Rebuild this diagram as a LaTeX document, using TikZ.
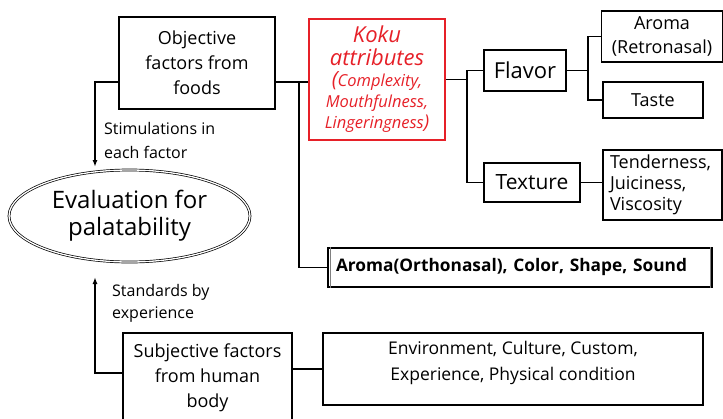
\documentclass[tikz,border=0pt]{standalone}
\usepackage{fontspec}
\usepackage{xcolor}
\usepackage{tikz}
\setmainfont{Open Sans}
\usetikzlibrary{arrows.meta,shapes.geometric}
\definecolor{kokured}{RGB}{230,32,40}

\begin{document}
\begin{tikzpicture}[x=1pt,y=1pt,
	box/.style={draw=black, line width=1.6pt, align=center, inner sep=0pt},
	mainbox/.style={box, line width=2.8pt},
	link/.style={black, line width=1.4pt},
	arr/.style={link, -{Latex[length=7pt,width=5pt]}}]
	\useasboundingbox (0,0) rectangle (723,-418);
	\clip (0,0) rectangle (723,-418);
	\node [mainbox, minimum width=156, minimum height=92, font=\fontsize{18}{25}\selectfont] (obj) at (197,-63) {Objective\\factors from\\foods};
	\node [mainbox, draw=kokured, text=kokured, minimum width=136, minimum height=121, text width=130] (koku) at (377,-79.5)
		{{\fontsize{22}{23}\selectfont\itshape Koku\\attributes\par}{\fontsize{16.5}{21}\selectfont\itshape{\fontsize{21}{21}\selectfont(}Complexity,\\Mouthfulness,\\Lingeringness{\fontsize{19}{21}\selectfont)}\par}};
	\node [box, minimum width=82, minimum height=41, font=\fontsize{22}{25}\selectfont] (flavor) at (525,-70.5) {Flavor};
	\node [box, minimum width=96, minimum height=39, font=\fontsize{21}{25}\selectfont] (texture) at (532,-182.5) {Texture};
	\node [box, minimum width=121, minimum height=51, font=\fontsize{18}{24}\selectfont] (aromaR) at (662,-36.5) {Aroma\\(Retronasal)};
	\node [box, minimum width=100, minimum height=36, font=\fontsize{18}{24}\selectfont] (taste) at (653,-100) {Taste};
	\node [box, align=left, minimum width=119, minimum height=70, text width=105, font=\fontsize{18}{21}\selectfont] (tender) at (662.5,-185) {Tenderness,\\Juiciness,\\Viscosity};
	\node [box, line width=1.2pt, align=left, minimum width=384, minimum height=39, text width=368, font=\fontsize{17.3}{22}\selectfont\bfseries] (ortho) at (520,-267.5) {Aroma(Orthonasal), Color, Shape, Sound};
	\node [ellipse, draw=black, double, double distance=1.3pt, line width=0.7pt, minimum width=241, minimum height=92, inner sep=0pt, align=center, font=\fontsize{24}{27}\selectfont] (eval) at (129.5,-216) {Evaluation for\\palatability};
	\node [mainbox, minimum width=169, minimum height=90, font=\fontsize{18}{25}\selectfont] (subj) at (207.5,-378) {Subjective factors\\from human\\body};
	\node [box, minimum width=380, minimum height=72, text depth=17pt, font=\fontsize{17.5}{26}\selectfont] (env) at (513,-369) {Environment, Culture, Custom,\\Experience, Physical condition};
	\node [anchor=west, align=left, inner sep=0pt, font=\fontsize{16}{24}\selectfont] (stimlabel) at (104,-140) {Stimulations in\\each factor};
	\node [anchor=west, align=left, inner sep=0pt, font=\fontsize{16}{22}\selectfont] (stdlabel) at (112,-303.5) {Standards by\\experience};
	\coordinate (stimtip) at (95,-167);
	\coordinate (stdtip) at (95,-277);
	\coordinate (jA) at (299,-82);
	\coordinate (jB) at (467,-79.5);
	\coordinate (jC) at (588,-70.5);
	\draw [gray, line width=0.8pt] ([xshift=2.5]ortho.north west) -- ([xshift=2.5]ortho.south west);
	\draw [gray, line width=0.8pt] ([xshift=-2.5]ortho.north east) -- ([xshift=-2.5]ortho.south east);
	\draw [arr] ([yshift=-19]obj.west) -| (stimtip);
	\draw [link] ([yshift=-19]obj.east) -- (koku.west |- jA);
	\draw [link] (jA) |- (ortho.west);
	\draw [link] (koku.east) -- (jB);
	\draw [link] (jB) |- (flavor.west);
	\draw [link] (jB) |- (texture.west);
	\draw [link] (flavor.east) -- (jC);
	\draw [link] (jC) |- (aromaR.west);
	\draw [link] (jC) |- (taste.west);
	\draw [link] (texture.east) -- (texture.east -| tender.west);
	\draw [arr] ([yshift=5]subj.west) -| (stdtip);
	\draw [link] (subj.east |- env.west) -- (env.west);
\end{tikzpicture}
\end{document}
